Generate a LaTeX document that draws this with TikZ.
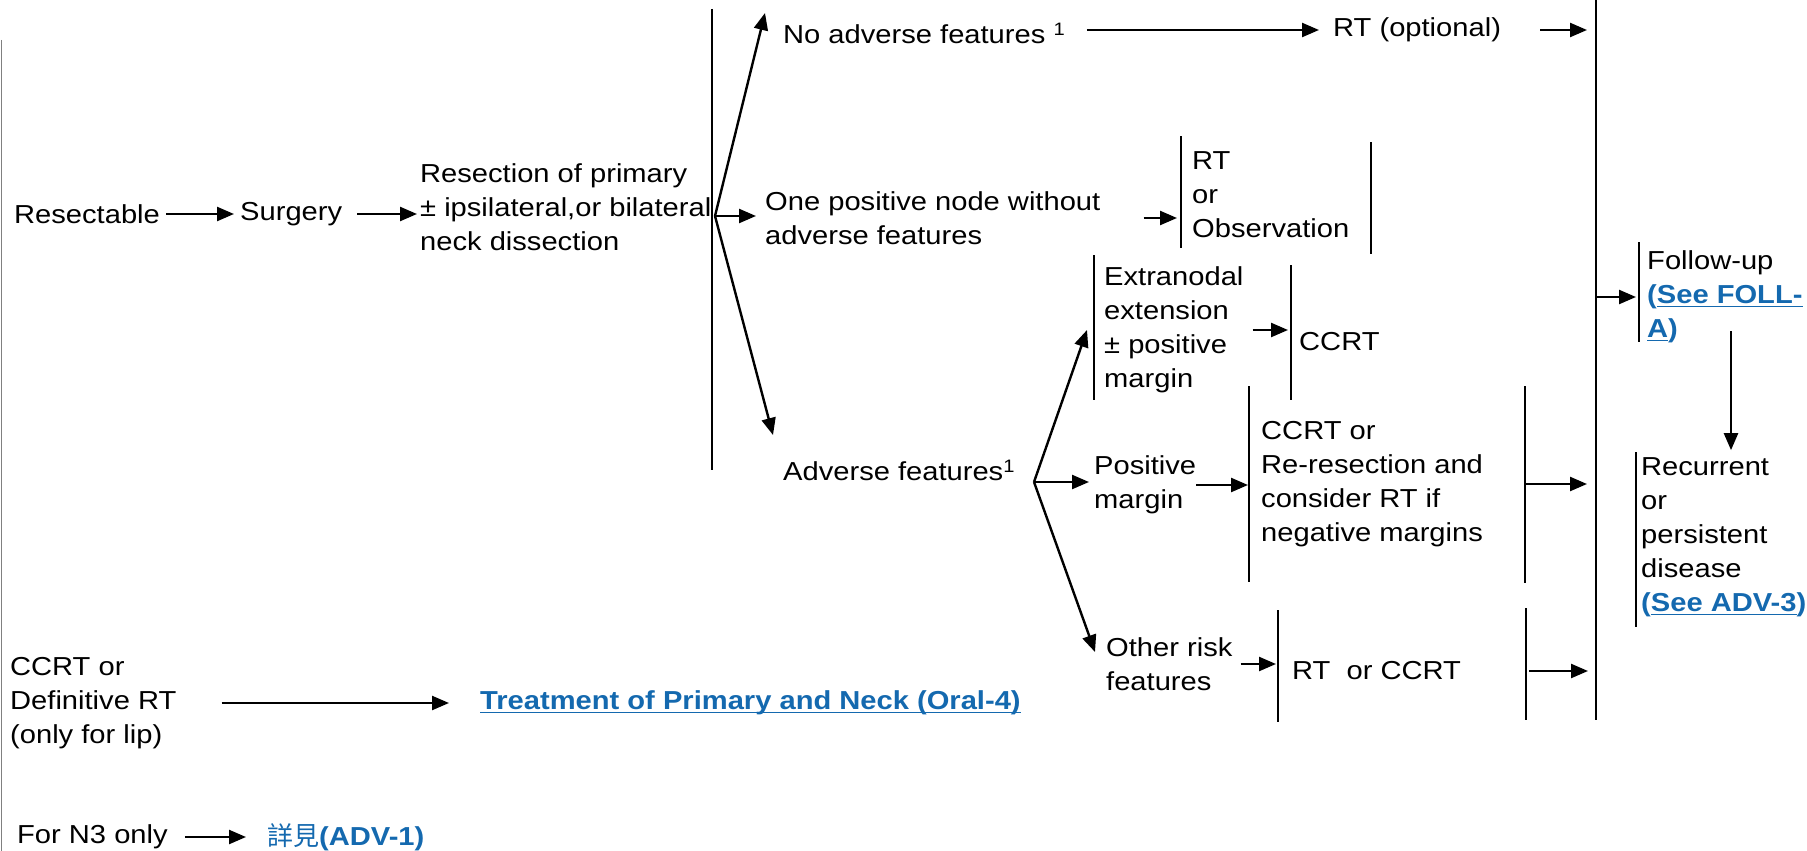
\documentclass[tikz,border=0pt]{standalone}
\usepackage{fontspec}
\setmainfont{Liberation Sans}[FakeStretch=1.12]
\newfontfamily\cjk{Noto Sans CJK TC}
\usepackage{xcolor}
\usetikzlibrary{arrows.meta,positioning,calc}
\definecolor{linkblue}{RGB}{20,105,175}
\newlength{\undlw}
\newcommand{\undl}[1]{\settowidth{\undlw}{#1}\rlap{\rule[-3.5pt]{\undlw}{1.2pt}}#1}
\newcommand{\seelink}[1]{\textcolor{linkblue}{\bfseries #1}}
\newcommand{\fnmark}{\raisebox{8pt}{\fontsize{18}{18}\selectfont 1}}

\begin{document}
\begin{tikzpicture}[x=1pt,y=-1pt,
    txt/.style={anchor=west,inner sep=0pt,align=left,font=\fontsize{26}{34}\selectfont},
    arr/.style={line width=2.4pt,-{Triangle[length=17pt,width=14pt]}},
    bar/.style={line width=1.6pt}]
    \useasboundingbox (0,0) rectangle (1807,851);

    % Left border and the two main lines
    \draw[line width=1pt,gray] (1,40) -- (1,851);
    \coordinate (l1top) at (712,9);
    \coordinate (l2top) at (1596,0);
    \draw[line width=2pt] (l1top) -- (712,470);
    \draw[line width=2pt] (l2top) -- (1596,720);

    % Surgery path
    \node[txt] (resect) at (14,214) {Resectable};
    \node[txt] (surg) at (240,214) {Surgery};
    \node[txt] (resec) at (420,207) {Resection of primary\\± ipsilateral,or bilateral\\neck dissection};

    % Pathology branches
    \coordinate (b1) at (715,216);
    \node[txt] (noadv) at (783,33) {No adverse features \fnmark};
    \node[txt] (rtopt) at (1333,30) {RT (optional)};
    \node[txt] (onepos) at (765,218) {One positive node without\\adverse features};
    \node[txt] (rtobs) at (1192,195) {RT\\or\\Observation};
    \node[txt] (advf) at (783,470) {Adverse features\fnmark};

    % Adverse feature branches
    \coordinate (b2) at (1034,482);
    \node[txt] (extra) at (1104,330) {Extranodal\\extension\\± positive\\margin};
    \node[txt] (ccrt) at (1299,342) {CCRT};
    \node[txt] (posm) at (1094,485) {Positive\\margin};
    \node[txt] (ccrtor) at (1261,484) {CCRT or\\Re-resection and\\consider RT if\\negative margins};
    \node[txt] (other) at (1106,664) {Other risk\\features};
    \node[txt] (rtccrt) at (1292,671) {RT\ \ or CCRT};

    % Follow-up
    \node[txt] (follow) at (1647,297) {Follow-up\\\seelink{(\undl{See FOLL-}}\\\seelink{\undl{A})}};
    \node[txt] (recur) at (1641,537) {Recurrent\\or\\persistent\\disease\\\seelink{(\undl{See ADV-3})}};

    % Non-surgical
    \node[txt] (defrt) at (10,703) {CCRT or\\Definitive RT\\(only for lip)};
    \node[txt] (treat) at (480,703) {\seelink{\undl{Treatment of Primary and Neck (Oral-4)}}};
    \node[txt] (n3) at (17,837) {For N3 only};
    \node[txt] (adv1) at (267,837) {\textcolor{linkblue}{{\cjk 詳見}\bfseries(ADV-1)}};

    % Bars
    \coordinate (obsL) at (1181,136);
    \coordinate (obsR) at (1371,142);
    \coordinate (extL) at (1094,255);
    \coordinate (ccrtL) at (1291,265);
    \coordinate (orL) at (1249,386);
    \coordinate (orR) at (1525,386);
    \coordinate (rcL) at (1278,610);
    \coordinate (rcR) at (1526,608);
    \coordinate (folL) at (1639,242);
    \coordinate (recL) at (1636,452);
    \draw[bar] (obsL) -- ++(0,112);
    \draw[bar] (obsR) -- ++(0,112);
    \draw[bar] (extL) -- ++(0,145);
    \draw[bar] (ccrtL) -- ++(0,135);
    \draw[bar] (orL) -- ++(0,196);
    \draw[bar] (orR) -- ++(0,197);
    \draw[bar] (rcL) -- ++(0,112);
    \draw[bar] (rcR) -- ++(0,112);
    \draw[bar] (folL) -- ++(0,100);
    \draw[bar] (recL) -- ++(0,175);

    % Arrows
    \draw[arr,shorten <=6pt,shorten >=6pt] (resect.east) -- (surg.west);
    \draw[arr,shorten <=15pt,shorten >=3pt] (surg.east) -- (surg.east -| resec.west);
    \draw[arr] (b1) -- ([shift={(-18,-20)}]noadv.west);
    \draw[arr,shorten >=9pt] (b1) -- (b1 -| onepos.west);
    \draw[arr] (b1) -- ([shift={(-10,-35)}]advf.west);
    \draw[arr,shorten <=22pt,shorten >=14pt] (rtopt -| noadv.east) -- (rtopt.west);
    \draw[arr,shorten <=39pt,shorten >=9pt] (rtopt.east) -- (rtopt.east -| l2top);
    \draw[arr,shorten <=43pt,shorten >=4pt] (onepos.east) -- (onepos.east -| obsL);
    \draw[arr,shorten <=9pt,shorten >=3pt] (extra.east) -- (extra.east -| ccrtL);
    \draw[arr] (b2) -- ([shift={(-17,0)}]extra.west);
    \draw[arr,shorten >=5pt] (b2) -- (b2 -| posm.west);
    \draw[arr] (b2) -- ([shift={(-11,-12)}]other.west);
    \draw[arr,shorten >=1pt] (posm.east) -- (posm.east -| orL);
    \draw[arr,shorten <=8pt,shorten >=2pt] (other.east) -- (other.east -| rcL);
    \draw[arr,shorten >=9pt] (ccrtor.east -| orR) -- (ccrtor.east -| l2top);
    \draw[arr,shorten <=3pt,shorten >=8pt] (rtccrt.east -| rcR) -- (rtccrt.east -| l2top);
    \draw[arr,shorten >=11pt] (follow.west -| l2top) -- (follow.west);
    \draw[arr] ([xshift=84pt,yshift=12pt]follow.south west) -- ([xshift=90pt,yshift=7pt]recur.north west);
    \draw[arr,shorten <=45pt,shorten >=31pt] (defrt.east) -- (treat.west);
    \draw[arr,shorten <=17pt,shorten >=21pt] (n3.east) -- (adv1.west);
\end{tikzpicture}
\end{document}
